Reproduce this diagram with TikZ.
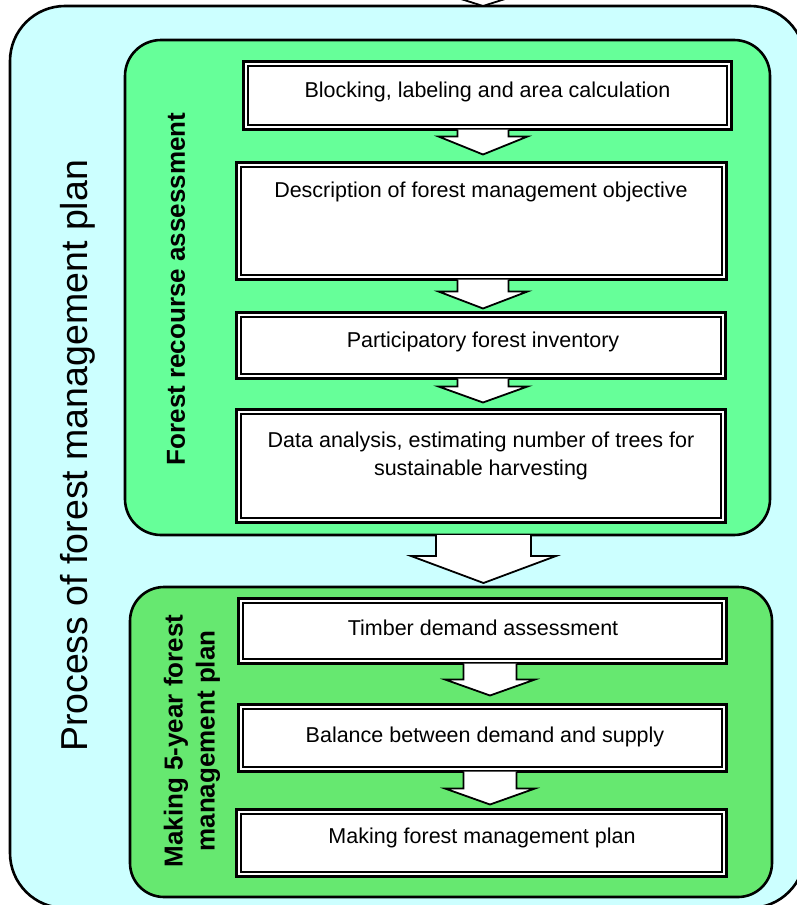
\documentclass[tikz,border=0pt]{standalone}
\usepackage{fontspec}
\setmainfont{Liberation Sans}
\usetikzlibrary{calc}

\definecolor{panelcyan}{RGB}{204,255,255}
\definecolor{assessgreen}{RGB}{102,255,153}
\definecolor{plangreen}{RGB}{102,232,112}

\tikzset{
  panel/.style={draw=black, line width=2.6pt, inner sep=0pt, outer sep=0pt},
  stepbox/.style={draw=black, line width=2.8pt, fill=white, inner sep=0pt, outer sep=0pt},
  arrowline/.style={draw=black, fill=white, line width=1.8pt, line join=miter},
  steptext/.style={font=\fontsize{21.5}{25}\selectfont, inner sep=0pt, anchor=base},
  sidetext/.style={font=\fontsize{26}{32}\selectfont\bfseries, inner sep=0pt, rotate=90, align=center},
  titletext/.style={font=\fontsize{37.5}{44}\selectfont, inner sep=0pt, rotate=90}
}

% Hollow block arrow from the bottom of #1 towards the top of #2.
% #3 centre x, #4 shaft half width, #5 head half width, #6 head length, #7 gap above #2
\newcommand\blockarrow[7]{%
  \draw[arrowline] let \p1=(#1.south), \p2=(#2.north) in
    ({#3pt-#4pt},\y1) -- ({#3pt-#4pt},{\y2+#7pt+#6pt}) -- ({#3pt-#5pt},{\y2+#7pt+#6pt})
    -- ({#3pt},{\y2+#7pt}) -- ({#3pt+#5pt},{\y2+#7pt+#6pt}) -- ({#3pt+#4pt},{\y2+#7pt+#6pt})
    -- ({#3pt+#4pt},\y1);
}

\begin{document}
\begin{tikzpicture}[x=1pt, y=-1pt]
\useasboundingbox (0,0) rectangle (797,905);
\clip (0,0) rectangle (797,905);

% outer panel
\node[panel, fill=panelcyan, rounded corners=55pt, minimum width=795pt, minimum height=902pt] (outer) at (407.5,457) {};

% incoming arrow at the top
\coordinate (feed) at (483,-60);
\coordinate (intake) at (outer.north -| feed);
\draw[arrowline] let \p1=(feed), \p2=(intake) in
  ({\x1-47.5pt},\y1) -- ({\x1-47.5pt},{\y2+23pt}) -- ({\x1-72.5pt},{\y2+23pt}) -- (\x1,\y2)
  -- ({\x1+72.5pt},{\y2+23pt}) -- ({\x1+47.5pt},{\y2+23pt}) -- ({\x1+47.5pt},\y1);

% stage panels
\node[panel, fill=assessgreen, rounded corners=36pt, minimum width=645pt, minimum height=495pt] (g1) at (447.5,287.5) {};
\node[panel, fill=plangreen, rounded corners=34pt, minimum width=642pt, minimum height=310pt] (g2) at (451,742) {};

% step boxes
\node[stepbox, minimum width=488pt, minimum height=68pt] (b1) at (487.5,95.5) {};
\node[stepbox, minimum width=490pt, minimum height=117pt] (b2) at (481.5,221) {};
\node[stepbox, minimum width=489pt, minimum height=66pt] (b3) at (481,345.5) {};
\node[stepbox, minimum width=489pt, minimum height=113pt] (b4) at (481,466) {};
\node[stepbox, minimum width=488pt, minimum height=65pt] (b5) at (482.5,631) {};
\node[stepbox, minimum width=488pt, minimum height=67pt] (b6) at (482.5,738) {};
\node[stepbox, minimum width=490pt, minimum height=67pt] (b7) at (481.5,843) {};

% inner rule of the double frames
\foreach \b in {b1,b2,b3,b4,b5,b6,b7}
  \draw[line width=1.1pt] ([shift={(4.5,4.5)}]\b.north west) rectangle ([shift={(-4.5,-4.5)}]\b.south east);

% connectors
\blockarrow{b1}{b2}{483}{25.5}{44.5}{18}{8}
\blockarrow{b2}{b3}{483}{25.5}{44.5}{17}{4}
\blockarrow{b3}{b4}{483}{25.5}{44.5}{16}{7}
\blockarrow{g1}{g2}{483.5}{47.5}{72.5}{27}{4}
\blockarrow{b5}{b6}{490}{26.5}{45}{16}{9}
\blockarrow{b6}{b7}{490}{26.5}{45}{16}{5}

% step texts
\node[steptext] (t1) at (487.5,97) {Blocking, labeling and area calculation};
\node[steptext] (t2) at (481,197) {Description of forest management objective};
\node[steptext] (t3) at (483,347) {Participatory forest inventory};
\node[steptext] (t4a) at (481,447) {Data analysis, estimating number of trees for};
\node[steptext] (t4b) at (481,475) {sustainable harvesting};
\node[steptext] (t5) at (483,635) {Timber demand assessment};
\node[steptext] (t6) at (485,742) {Balance between demand and supply};
\node[steptext] (t7) at (482,843) {Making forest management plan};

% side labels
\node[titletext] (title) at (78,456) {Process of forest management plan};
\node[sidetext] (s1) at (176,289) {Forest recourse assessment};
\node[sidetext] (s2) at (192,741) {Making 5-year forest\\management plan};
\end{tikzpicture}
\end{document}
